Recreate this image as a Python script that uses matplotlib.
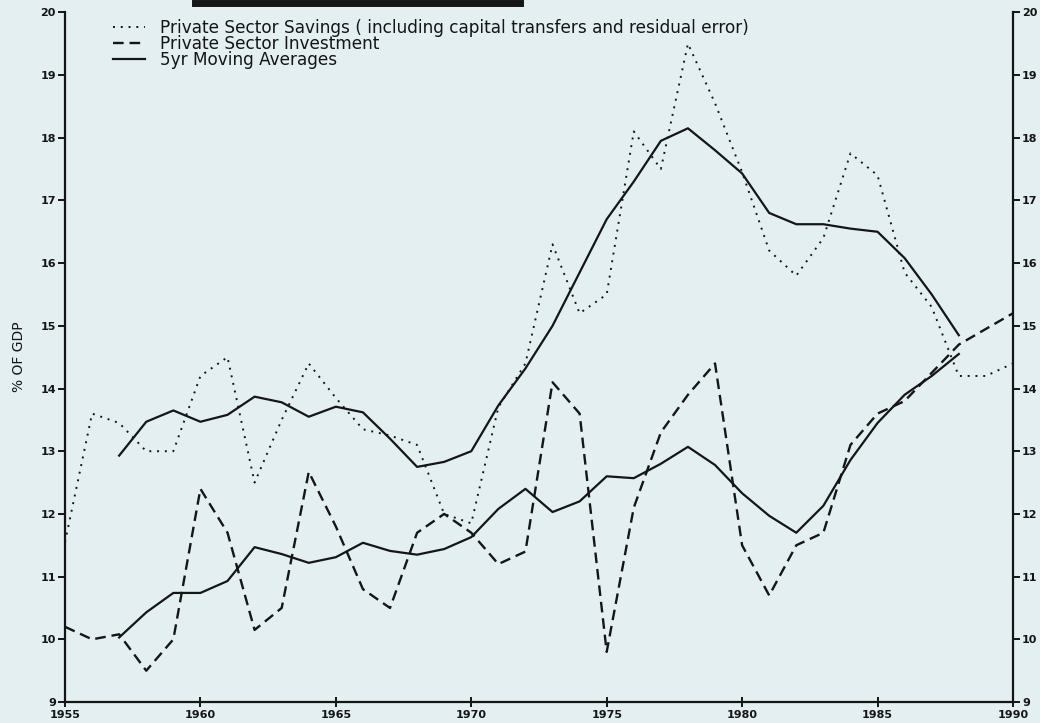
import numpy as np
import matplotlib
matplotlib.use("Agg")
from matplotlib import pyplot as plt
from matplotlib.lines import Line2D

# annual data, % of GDP
years = list(range(1955, 1991))
savings = [11.55, 13.6, 13.45, 13.0, 13.0, 14.2, 14.5, 12.5, 13.5, 14.4,
           13.85, 13.35, 13.25, 13.1, 12.0, 11.85, 13.7, 14.4, 16.3, 15.2,
           15.5, 18.1, 17.5, 19.5, 18.55, 17.45, 16.2, 15.8, 16.4, 17.75,
           17.4, 15.85, 15.3, 14.2, 14.2, 14.4]
investment = [10.2, 10.0, 10.08, 9.5, 10.0, 12.4, 11.7, 10.15, 10.5, 12.67,
              11.8, 10.8, 10.5, 11.7, 12.0, 11.7, 11.2, 11.4, 14.1, 13.6,
              9.8, 12.1, 13.3, 13.9, 14.4, 11.5, 10.7, 11.5, 11.7, 13.1,
              13.6, 13.8, 14.25, 14.7, 14.95, 15.2]

# 5yr moving averages (centred), 1957-1988
ma_years = list(range(1957, 1989))
savings_ma = [12.93, 13.47, 13.65, 13.47, 13.58, 13.87, 13.78, 13.55, 13.71, 13.62,
              13.2, 12.75, 12.83, 13.0, 13.73, 14.32, 15.0, 15.85, 16.7, 17.3,
              17.95, 18.15, 17.8, 17.43, 16.8, 16.62, 16.62, 16.55, 16.5, 16.08,
              15.5, 14.85]
investment_ma = [10.03, 10.43, 10.74, 10.74, 10.93, 11.47, 11.36, 11.22, 11.31, 11.54,
                 11.41, 11.35, 11.44, 11.63, 12.08, 12.4, 12.03, 12.2, 12.6, 12.57,
                 12.8, 13.07, 12.78, 12.33, 11.97, 11.7, 12.13, 12.86, 13.45, 13.9,
                 14.2, 14.55]

xticks = [1955, 1960, 1965, 1970, 1975, 1980, 1985, 1990]
yticks = list(range(9, 21))

bg = "#e3eff1"
ink = "#151515"
dots = (0, (1, 3))
dashes = (0, (4.5, 2.5))

fig = plt.figure(figsize=(10.4, 7.23), dpi=100, facecolor=bg)
ax = fig.add_axes([0.0625, 0.029, 0.9115, 0.954])
ax.set_facecolor(bg)

ax.plot(years, savings, color=ink, lw=1.4, linestyle=dots)
ax.plot(years, investment, color=ink, lw=1.7, linestyle=dashes)
ax.plot(ma_years, savings_ma, color=ink, lw=1.6)
ax.plot(ma_years, investment_ma, color=ink, lw=1.6)

ax.set_xlim(1955, 1990)
ax.set_ylim(9, 20)
ax.set_xticks(xticks)
ax.set_yticks(yticks)

for s in ["left", "right", "bottom"]:
    ax.spines[s].set_linewidth(1.6)
    ax.spines[s].set_color(ink)
ax.spines["top"].set_visible(False)

ax.tick_params(axis="y", left=True, right=True, labelleft=True,
               labelright=True, direction="out", length=5, width=1.4,
               colors=ink, labelsize=8, pad=1.5)
ax.tick_params(axis="x", direction="inout", length=7, width=1.4, colors=ink,
               labelsize=8, pad=2)
for t in ax.xaxis.get_major_ticks() + ax.yaxis.get_major_ticks():
    t.label1.set_fontweight("bold")
    t.label2.set_fontweight("bold")

ax.set_ylabel("% OF GDP", fontsize=10, color=ink, labelpad=10)

handles = [
    Line2D([], [], color=ink, lw=1.4, linestyle=dots),
    Line2D([], [], color=ink, lw=1.7, linestyle=dashes),
    Line2D([], [], color=ink, lw=1.6),
]
labels = [
    "Private Sector Savings ( including capital transfers and residual error)",
    "Private Sector Investment",
    "5yr Moving Averages",
]
ax.legend(handles, labels, loc="upper left", bbox_to_anchor=(0.038, 1.008),
          frameon=False, fontsize=12.2, handlelength=1.9, handletextpad=0.9,
          labelspacing=-0.1, labelcolor=ink, borderaxespad=0.3)

# cut-off underlined heading at the top edge of the page
fig.add_artist(Line2D([195 / 1040, 520 / 1040], [1 - 3 / 723, 1 - 3 / 723],
                      transform=fig.transFigure, color=ink, lw=5))

fig.savefig("out.png", dpi=100, facecolor=bg)
